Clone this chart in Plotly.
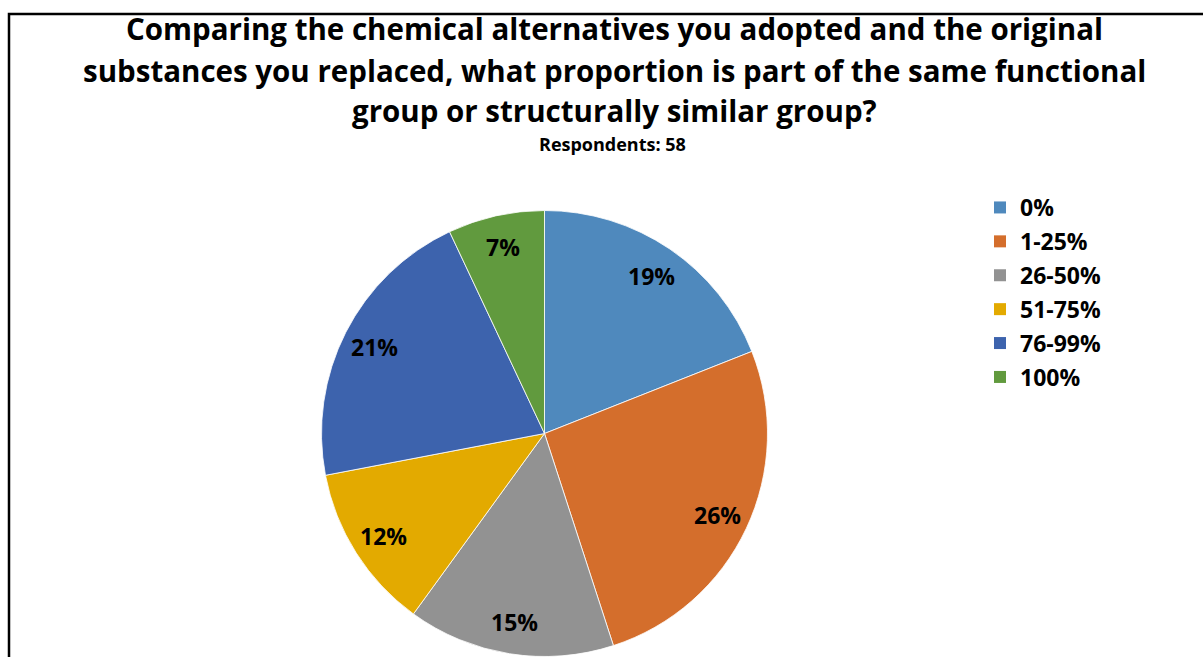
import math
import plotly.graph_objects as go

# Survey answers and their share of respondents (percent)
categories = ["0%", "1-25%", "26-50%", "51-75%", "76-99%", "100%"]
shares = [19, 26, 15, 12, 21, 7]
colors = ["#4F89BD", "#D46E2C", "#929292", "#E3AA00", "#3D63AD", "#619A3E"]

title_lines = [
    "Comparing the chemical alternatives you adopted and the original",
    "substances you replaced, what proportion is part of the same functional",
    "group or structurally similar group?",
]
subtitle = "Respondents: 58"

W, H = 1203, 657
FONT = "Open Sans"

# pie placement in pixels (centre and radius)
cx, cy, r = 544.5, 433.5, 223.0

fig = go.Figure()

fig.add_trace(go.Pie(
    labels=categories,
    values=shares,
    sort=False,
    direction="clockwise",
    rotation=0,
    marker=dict(colors=colors, line=dict(color="white", width=0.8)),
    textinfo="none",
    hoverinfo="label+value",
    showlegend=False,
    domain=dict(x=[(cx - r) / W, (cx + r) / W],
                y=[(H - cy - r) / H, (H - cy + r) / H]),
))

# legend entries, one group per answer so the rows can be spaced out
for name, col in zip(categories, colors):
    fig.add_trace(go.Scatter(
        x=[None], y=[None], mode="markers", name=name, legendgroup=name,
        marker=dict(symbol="square", size=12, color=col, line=dict(width=0)),
        showlegend=True, hoverinfo="skip",
    ))

annotations = []

# percentage labels placed along each slice's middle angle
total = sum(shares)
cum = 0
for v in shares:
    theta = 2 * math.pi * (cum + v / 2) / total
    cum += v
    px = cx + 0.855 * r * math.sin(theta)
    py = cy - 0.855 * r * math.cos(theta)
    annotations.append(dict(
        x=px / W, y=1 - py / H, xref="paper", yref="paper",
        text=f"{v}%", showarrow=False, xanchor="center", yanchor="middle",
        font=dict(family=FONT, size=23, color="black", weight="bold"),
    ))

# three-line title and respondents line
for line, yc in zip(title_lines, [28, 70, 110]):
    annotations.append(dict(
        x=614 / W, y=1 - yc / H, xref="paper", yref="paper",
        text=line, showarrow=False, xanchor="center", yanchor="middle",
        font=dict(family=FONT, size=29.5, color="black", weight="bold"),
    ))
annotations.append(dict(
    x=612 / W, y=1 - 144 / H, xref="paper", yref="paper",
    text=subtitle, showarrow=False, xanchor="center", yanchor="middle",
    font=dict(family=FONT, size=18, color="black", weight="bold"),
))

fig.update_layout(
    width=W, height=H,
    margin=dict(l=0, r=0, t=0, b=0),
    paper_bgcolor="white", plot_bgcolor="white",
    xaxis=dict(visible=False), yaxis=dict(visible=False),
    annotations=annotations,
    legend=dict(
        x=980 / W, y=1 - 186 / H, xanchor="left", yanchor="top",
        font=dict(family=FONT, size=23, color="black", weight="bold"),
        tracegroupgap=1, bgcolor="rgba(0,0,0,0)",
    ),
    shapes=[dict(
        type="rect", xref="paper", yref="paper",
        x0=9 / W, x1=1.05, y0=-0.05, y1=1 - 14 / H,
        line=dict(color="black", width=2.5), fillcolor="rgba(0,0,0,0)",
        layer="above",
    )],
)

fig.write_html("out.html")
